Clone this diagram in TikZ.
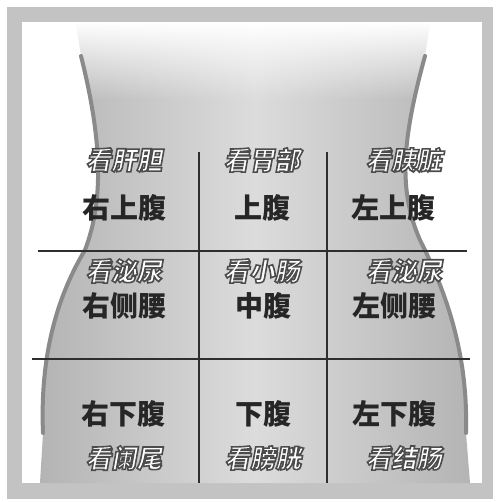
\documentclass[tikz,border=0pt]{standalone}
\usepackage{fontspec}
\usetikzlibrary{fadings}
\newfontfamily\cjk{Noto Sans CJK SC}
\newfontfamily\cjkhand{Noto Sans CJK SC}[FakeSlant=0.18]
\definecolor{framegray}{HTML}{C3C3C3}
\definecolor{skinedge}{HTML}{B4B4B4}
\definecolor{skinmid}{HTML}{DCDCDC}
\definecolor{outline}{HTML}{8A8A8A}
\definecolor{gridline}{HTML}{2E2E2E}
\tikzset{
  zone/.style={font=\cjk\bfseries\fontsize{21}{21}\selectfont, text=black!85, inner sep=0.75pt},
  organ/.style={font=\cjkhand\bfseries\fontsize{19}{19}\selectfont, text=white, inner sep=0.75pt},
  sep/.style={draw=gridline, line width=1.1pt}
}
% white letters with a dark stroked rim
\newcommand{\organtext}[1]{\special{pdf:literal direct 2 Tr 1.2 w 0.3 G}#1\special{pdf:literal direct 0 Tr}}

\begin{document}
\begin{tikzpicture}[x=0.75pt,y=0.75pt,yscale=-1,xscale=1]
\useasboundingbox (0,0) rectangle (500,502);

%Shape: Frame
\fill [framegray] (7,7) rectangle (493,499);
\fill [white] (22,22) rectangle (482,483);

%Shape: Torso
\shade [left color=skinedge, right color=skinedge, middle color=skinmid]
  (76,24) -- (430,24) -- (425,56) .. controls (402,140) and (398,190) .. (420,240)
  .. controls (450,300) and (468,360) .. (466,433) -- (470,483) -- (40,483) -- (43,433)
  .. controls (40,360) and (55,300) .. (85,250) .. controls (104,200) and (102,140) .. (81,56) -- cycle;
%top of torso fades out
\fill [white, path fading=south] (22,22) rectangle (482,100);

%Curve Lines: body contour
\draw [outline, line width=3pt, line cap=round]
  (81,56) .. controls (102,140) and (104,200) .. (85,250) .. controls (55,300) and (40,360) .. (43,433);
\draw [outline, line width=3pt, line cap=round]
  (425,56) .. controls (402,140) and (398,190) .. (420,240) .. controls (450,300) and (468,360) .. (466,433);

%Straight Lines: grid
\coordinate (v1t) at (199,152);
\coordinate (v1b) at (199,483);
\coordinate (v2t) at (327,152);
\coordinate (v2b) at (327,483);
\coordinate (h1l) at (38,251);
\coordinate (h1r) at (467,251);
\coordinate (h2l) at (32,359);
\coordinate (h2r) at (470,359);
\draw [sep] (v1t) -- (v1b);
\draw [sep] (v2t) -- (v2b);
\draw [sep] (h1l) -- (h1r);
\draw [sep] (h2l) -- (h2r);

% Text Node: upper row
\node [organ] (liver) at (124,160) {\organtext{看肝胆}};
\node [organ] (stomach) at (262,160) {\organtext{看胃部}};
\node [organ] (pancreas) at (404,160) {\organtext{看胰脏}};
\node [zone] (rur) at (124,208) {右上腹};
\node [zone] (epi) at (262,208) {上腹};
\node [zone] (lur) at (393,208) {左上腹};

% Text Node: middle row
\node [organ] (kidneyr) at (124,271) {\organtext{看泌尿}};
\node [organ] (bowel) at (262,271) {\organtext{看小肠}};
\node [organ] (kidneyl) at (404,271) {\organtext{看泌尿}};
\node [zone] (rlr) at (124,306) {右侧腰};
\node [zone] (umb) at (263,306) {中腹};
\node [zone] (llr) at (394,306) {左侧腰};

% Text Node: lower row
\node [zone] (rlq) at (123,414) {右下腹};
\node [zone] (hyp) at (263,414) {下腹};
\node [zone] (llq) at (394,414) {左下腹};
\node [organ] (appendix) at (124,458) {\organtext{看阑尾}};
\node [organ] (bladder) at (263,458) {\organtext{看膀胱}};
\node [organ] (colon) at (404,458) {\organtext{看结肠}};

\end{tikzpicture}
\end{document}
